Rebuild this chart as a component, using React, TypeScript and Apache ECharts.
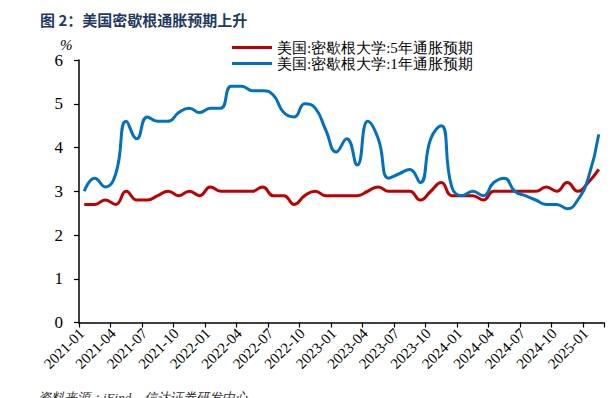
import React, { useEffect, useRef } from "react";
import * as echarts from "echarts";

const categories: string[] = [
  "2021-01", "2021-02", "2021-03", "2021-04", "2021-05", "2021-06", "2021-07", "2021-08", "2021-09", "2021-10", "2021-11", "2021-12",
  "2022-01", "2022-02", "2022-03", "2022-04", "2022-05", "2022-06", "2022-07", "2022-08", "2022-09", "2022-10", "2022-11", "2022-12",
  "2023-01", "2023-02", "2023-03", "2023-04", "2023-05", "2023-06", "2023-07", "2023-08", "2023-09", "2023-10", "2023-11", "2023-12",
  "2024-01", "2024-02", "2024-03", "2024-04", "2024-05", "2024-06", "2024-07", "2024-08", "2024-09", "2024-10", "2024-11", "2024-12",
  "2025-01", "2025-02",
];

const fiveYear: number[] = [
  2.7, 2.7, 2.8, 2.7, 3.0, 2.8, 2.8, 2.9, 3.0, 2.9, 3.0, 2.9,
  3.1, 3.0, 3.0, 3.0, 3.0, 3.1, 2.9, 2.9, 2.7, 2.9, 3.0, 2.9,
  2.9, 2.9, 2.9, 3.0, 3.1, 3.0, 3.0, 3.0, 2.8, 3.0, 3.2, 2.9,
  2.9, 2.9, 2.8, 3.0, 3.0, 3.0, 3.0, 3.0, 3.1, 3.0, 3.2, 3.0,
  3.2, 3.5,
];

const oneYear: number[] = [
  3.0, 3.3, 3.1, 3.4, 4.6, 4.2, 4.7, 4.6, 4.6, 4.8, 4.9, 4.8,
  4.9, 4.9, 5.4, 5.4, 5.3, 5.3, 5.2, 4.8, 4.7, 5.0, 4.9, 4.4,
  3.9, 4.2, 3.6, 4.6, 4.2, 3.3, 3.4, 3.5, 3.2, 4.2, 4.5, 3.1,
  2.9, 3.0, 2.9, 3.2, 3.3, 3.0, 2.9, 2.8, 2.7, 2.7, 2.6, 2.8,
  3.3, 4.3,
];

const seriesNames: string[] = [
  "美国:密歇根大学:5年通胀预期",
  "美国:密歇根大学:1年通胀预期",
];

const titleText = "图 2：美国密歇根通胀预期上升";
const sourceText = "资料来源：iFind，信达证券研发中心";

const SERIF = "Liberation Serif";

export default function App() {
  const ref = useRef<HTMLDivElement>(null);
  useEffect(() => {
    if (!ref.current) return;
    const chart = echarts.init(ref.current, undefined, { renderer: "svg" });
    chart.setOption({
      animation: false,
      backgroundColor: "#ffffff",
      grid: { left: 79, right: 6, top: 60, bottom: 75.5, containLabel: false },
      legend: {
        orient: "vertical",
        left: 227,
        top: 35,
        itemGap: 1,
        itemWidth: 40,
        itemHeight: 3,
        icon: "rect",
        textStyle: { fontFamily: SERIF, fontSize: 15, color: "#000" },
        data: seriesNames,
      },
      xAxis: {
        type: "category",
        data: categories,
        boundaryGap: true,
        axisLine: { lineStyle: { color: "#000", width: 1.5 } },
        axisTick: { show: true, interval: 2, length: 5, lineStyle: { color: "#000", width: 1.2 } },
        axisLabel: {
          interval: 2,
          rotate: 45,
          margin: 6,
          padding: [0, 3.5, 7, 0],
          fontFamily: SERIF,
          fontSize: 15,
          color: "#000",
        },
        splitLine: { show: false },
      },
      yAxis: {
        type: "value",
        min: 0,
        max: 6,
        interval: 1,
        axisLine: { show: true, lineStyle: { color: "#000", width: 1.5 } },
        axisTick: { show: true, inside: false, length: 5, lineStyle: { color: "#000", width: 1.2 } },
        axisLabel: { margin: 16, fontFamily: SERIF, fontSize: 17, color: "#000" },
        splitLine: { show: false },
      },
      series: [
        {
          name: seriesNames[0],
          type: "line",
          data: fiveYear,
          smooth: 0.5,
          symbol: "none",
          lineStyle: { color: "#C00000", width: 3 },
          itemStyle: { color: "#C00000" },
        },
        {
          name: seriesNames[1],
          type: "line",
          data: oneYear,
          smooth: 0.5,
          symbol: "none",
          lineStyle: { color: "#0070C0", width: 3 },
          itemStyle: { color: "#0070C0" },
        },
      ],
      graphic: [
        {
          type: "text",
          left: 40,
          top: 12,
          style: {
            text: titleText,
            fontFamily: "Noto Sans CJK SC",
            fontWeight: "bold",
            fontSize: 15,
            fill: "#1F3864",
          },
        },
        {
          type: "text",
          left: 60,
          top: 37,
          style: { text: "%", fontFamily: SERIF, fontSize: 15, fill: "#000", fontStyle: "italic" },
        },
        {
          type: "text",
          left: 38,
          top: 391,
          style: {
            text: sourceText,
            fontFamily: SERIF,
            fontSize: 13,
            fill: "#333",
            fontStyle: "italic",
          },
        },
      ],
    });
    return () => chart.dispose();
  }, []);
  return (
    <div
      ref={ref}
      style={{ position: "fixed", left: 0, top: 0, width: 610, height: 398 }}
    />
  );
}
